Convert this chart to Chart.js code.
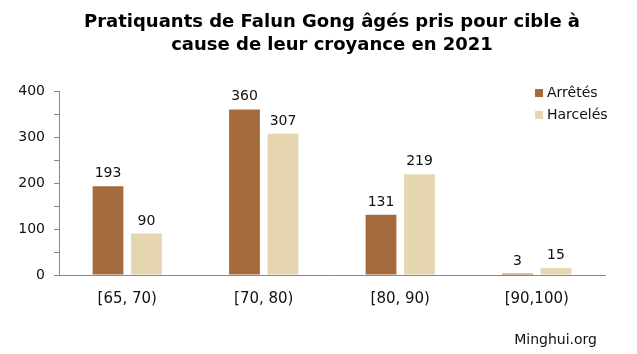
<!DOCTYPE html>
<html>
<head>
<meta charset="utf-8">
<script src="https://cdn.jsdelivr.net/npm/chart.js@4"></script>
<style>
    html, body { margin: 0; padding: 0; background: #fff; }
    #wrap { width: 637px; height: 354px; }
</style>
</head>
<body>
<div id="wrap"><canvas id="chart" width="637" height="354"></canvas></div>
<script>
const categories = ['[65, 70)', '[70, 80)', '[80, 90)', '[90,100)'];
const arretes = [193, 360, 131, 3];
const harceles = [90, 307, 219, 15];
const seriesNames = ['Arrêtés', 'Harcelés'];
const titleLines = ['Pratiquants de Falun Gong âgés pris pour cible à', 'cause de leur croyance en 2021'];
const sourceText = 'Minghui.org';

const brown = '#A66B3C';
const beige = '#E6D5B1';
const font = "'DejaVu Sans', Verdana, sans-serif";

// values above the bars
const valueLabels = {
    id: 'valueLabels',
    afterDatasetsDraw(chart) {
        const ctx = chart.ctx;
        ctx.save();
        ctx.font = '14px ' + font;
        ctx.fillStyle = '#111';
        ctx.textAlign = 'center';
        ctx.textBaseline = 'alphabetic';
        chart.data.datasets.forEach((ds, i) => {
            chart.getDatasetMeta(i).data.forEach((bar, j) => {
                ctx.fillText(ds.data[j], bar.x, bar.y - 9);
            });
        });
        ctx.restore();
    }
};

// title over the plot, legend at the top right and the source note
const extras = {
    id: 'extras',
    afterDraw(chart) {
        const ctx = chart.ctx;
        const area = chart.chartArea;
        ctx.save();
        ctx.fillStyle = '#000';
        ctx.font = 'bold 18px ' + font;
        ctx.textAlign = 'center';
        ctx.textBaseline = 'middle';
        const cx = (area.left + area.right) / 2;
        titleLines.forEach((t, i) => ctx.fillText(t, cx, 22 + i * 23));

        ctx.font = '14px ' + font;
        ctx.textAlign = 'left';
        [brown, beige].forEach((c, i) => {
            const y = 93 + i * 22;
            ctx.fillStyle = c;
            ctx.fillRect(535, y - 4, 8, 8);
            ctx.fillStyle = '#111';
            ctx.fillText(seriesNames[i], 547, y);
        });
        ctx.textAlign = 'right';
        ctx.fillText(sourceText, 597, 340);
        ctx.restore();
    }
};

new Chart(document.getElementById('chart'), {
    type: 'bar',
    data: {
        labels: categories,
        datasets: [
            { label: seriesNames[0], data: arretes, backgroundColor: brown, borderWidth: 0 },
            { label: seriesNames[1], data: harceles, backgroundColor: beige, borderWidth: 0 }
        ]
    },
    options: {
        responsive: false,
        animation: false,
        datasets: { bar: { categoryPercentage: 0.564, barPercentage: 0.8 } },
        layout: { padding: { left: 0, right: 32, top: 91, bottom: 0 } },
        plugins: {
            legend: { display: false },
            tooltip: { enabled: false },
            title: { display: false }
        },
        scales: {
            x: {
                grid: { display: false },
                border: { color: '#888' },
                ticks: { color: '#111', font: { family: font, size: 15 }, padding: 7 },
                afterFit(scale) { scale.height = 79; }
            },
            y: {
                min: 0,
                max: 400,
                ticks: {
                    stepSize: 50,
                    color: '#111',
                    font: { family: font, size: 14 },
                    padding: 9,
                    callback: v => (v % 100 === 0 ? v : '')
                },
                grid: { drawOnChartArea: false, drawTicks: true, tickLength: 5, color: '#888' },
                border: { color: '#888' },
                afterFit(scale) { scale.width = 59; }
            }
        }
    },
    plugins: [valueLabels, extras]
});
</script>
</body>
</html>
